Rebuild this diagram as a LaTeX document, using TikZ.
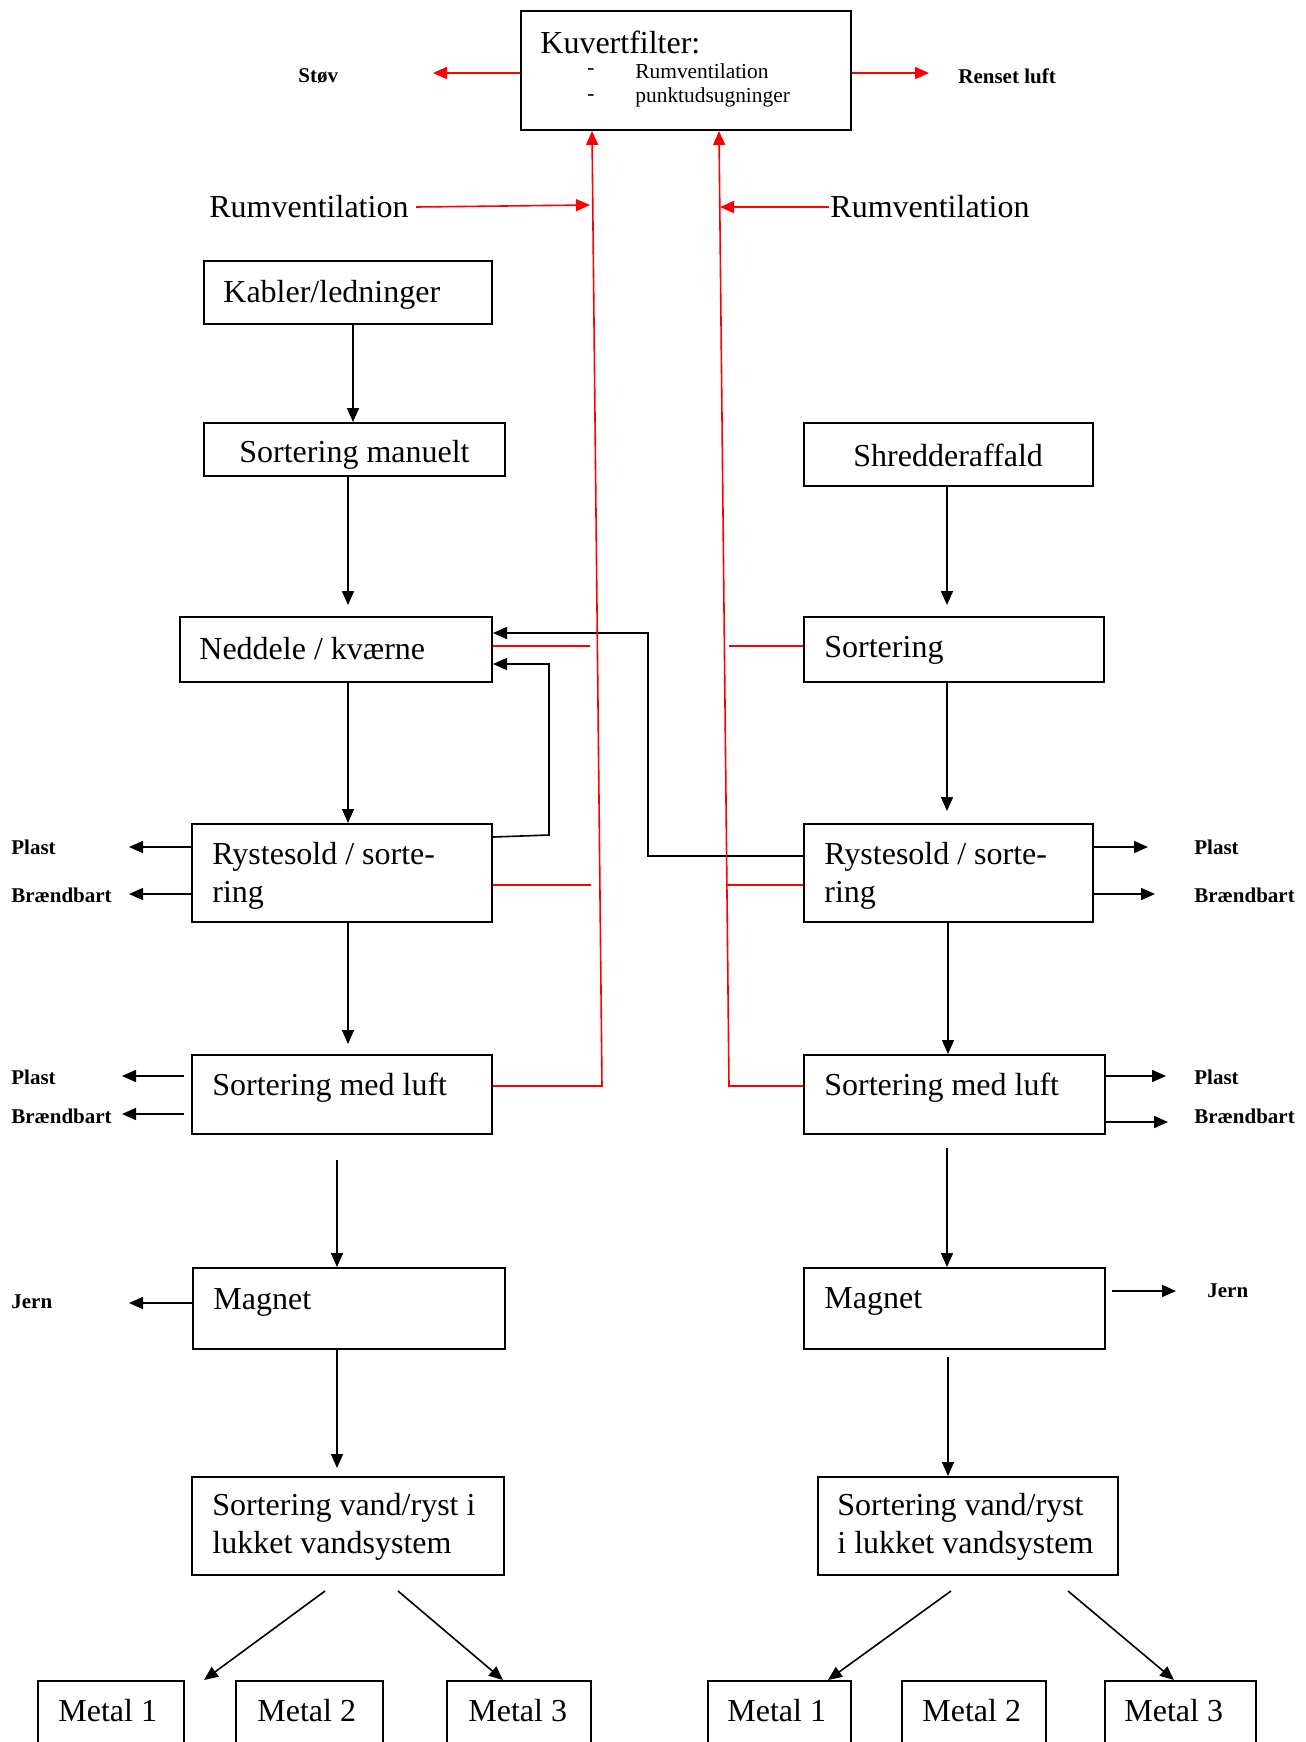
\documentclass[tikz,border=0pt]{standalone}
\usepackage{fontspec}
\setmainfont{Liberation Serif}
\usetikzlibrary{arrows.meta}
\tikzset{
  box/.style={draw, line width=1pt, inner sep=0pt, anchor=north west},
  txt/.style={inner sep=0pt, anchor=west, font=\fontsize{16}{19}\selectfont, align=left},
  sm/.style={inner sep=0pt, anchor=west, font=\fontsize{10.5}{12}\selectfont\bfseries},
  smr/.style={inner sep=0pt, anchor=west, font=\fontsize{10.7}{12}\selectfont},
  arr/.style={line width=0.8pt, -{Triangle[length=7pt,width=6pt]}},
  redarr/.style={red, line width=0.8pt, -{Triangle[length=7pt,width=6pt]}},
  redln/.style={red, line width=0.8pt},
}
\begin{document}
\begin{tikzpicture}[x=0.5pt,y=-0.5pt]
\clip (0,0) rectangle (1306,1742);
\fill[white] (0,0) rectangle (1306,1742);
% boxes
\node[box, minimum width=165pt, minimum height=59.5pt] (kuv) at (520,10) {};
\node[box, minimum width=144pt, minimum height=31.5pt] (kab) at (203,260) {};
\node[box, minimum width=150.5pt, minimum height=26.5pt] (sman) at (203,422) {};
\node[box, minimum width=156pt, minimum height=32.5pt] (ned) at (179,616) {};
\node[box, minimum width=150pt, minimum height=49pt] (rysL) at (191,823) {};
\node[box, minimum width=150pt, minimum height=39.5pt] (smlL) at (191,1054) {};
\node[box, minimum width=156pt, minimum height=40.5pt] (magL) at (192,1267) {};
\node[box, minimum width=156pt, minimum height=49pt] (vandL) at (191,1476) {};
\node[box, minimum width=73pt, minimum height=50pt] (m1L) at (37,1680) {};
\node[box, minimum width=73.5pt, minimum height=50pt] (m2L) at (235,1680) {};
\node[box, minimum width=72pt, minimum height=50pt] (m3L) at (446,1680) {};
\node[box, minimum width=144.5pt, minimum height=31.5pt] (shr) at (803,422) {};
\node[box, minimum width=150pt, minimum height=32.5pt] (sorR) at (803,616) {};
\node[box, minimum width=144.5pt, minimum height=49pt] (rysR) at (803,823) {};
\node[box, minimum width=150.5pt, minimum height=39.5pt] (smlR) at (803,1054) {};
\node[box, minimum width=150.5pt, minimum height=40.5pt] (magR) at (803,1267) {};
\node[box, minimum width=150pt, minimum height=49pt] (vandR) at (817,1476) {};
\node[box, minimum width=71.5pt, minimum height=50pt] (m1R) at (707,1680) {};
\node[box, minimum width=72pt, minimum height=50pt] (m2R) at (901,1680) {};
\node[box, minimum width=75.5pt, minimum height=50pt] (m3R) at (1104,1680) {};
% box texts
\node[txt] (tkuv) at (540,42) {Kuvertfilter:};
\node[smr, anchor=center] (d1) at (591,72) {-};
\node[smr, anchor=center] (d2) at (591,98) {-};
\node[smr] (tk1) at (635,71) {Rumventilation};
\node[smr] (tk2) at (635,97) {punktudsugninger};
\node[txt] (tkab) at (223,295) {Kabler/ledninger};
\node[txt] (tsman) at (239,455) {Sortering manuelt};
\node[txt] (tned) at (199,649) {Neddele / kværne};
\node[txt] (trysL) at (212,876) {Rystesold / sorte-\\ring};
\node[txt] (tsmlL) at (212,1088) {Sortering med luft};
\node[txt] (tmagL) at (213,1302) {Magnet};
\node[txt] (tvandL) at (212,1527) {Sortering vand/ryst i\\lukket vandsystem};
\node[txt] (tm1L) at (58,1711) {Metal 1};
\node[txt] (tm2L) at (257,1711) {Metal 2};
\node[txt] (tm3L) at (468,1711) {Metal 3};
\node[txt] (tshr) at (853,455) {Shredderaffald};
\node[txt] (tsorR) at (824,650) {Sortering};
\node[txt] (trysR) at (824,876) {Rystesold / sorte-\\ring};
\node[txt] (tsmlR) at (824,1088) {Sortering med luft};
\node[txt] (tmagR) at (824,1301) {Magnet};
\node[txt] (tvandR) at (837,1527) {Sortering vand/ryst\\i lukket vandsystem};
\node[txt] (tm1R) at (727,1711) {Metal 1};
\node[txt] (tm2R) at (922,1711) {Metal 2};
\node[txt] (tm3R) at (1124,1711) {Metal 3};
% free labels
\node[sm] (stov) at (298,76) {Støv};
\node[sm] (renset) at (958,76) {Renset luft};
\node[txt] (rumL) at (209,207) {Rumventilation};
\node[txt] (rumR) at (830,207) {Rumventilation};
\node[sm] (lp1) at (11,847) {Plast};
\node[sm] (lb1) at (11,895) {Brændbart};
\node[sm] (lp2) at (11,1077) {Plast};
\node[sm] (lb2) at (11,1116) {Brændbart};
\node[sm] (lj) at (11,1302) {Jern};
\node[sm] (rp1) at (1194,847) {Plast};
\node[sm] (rb1) at (1194,895) {Brændbart};
\node[sm] (rp2) at (1194,1077) {Plast};
\node[sm] (rb2) at (1194,1116) {Brændbart};
\node[sm] (rj) at (1207,1291) {Jern};
% start points of the split arrows
\coordinate (vL1) at (325,1591);
\coordinate (vL3) at (398,1591);
\coordinate (vR1) at (951,1591);
\coordinate (vR3) at (1068,1591);
% left chain
\draw[arr] (kab.south -| 353,0) -- (sman.north -| 353,0);
\draw[arr, shorten >=5.5pt] (sman.south -| 348,0) -- (ned.north -| 348,0);
\draw[arr] (ned.south -| 348,0) -- (rysL.north -| 348,0);
\draw[arr, shorten >=5pt] (rysL.south -| 348,0) -- (smlL.north -| 348,0);
\draw[arr, shorten <=12.5pt] (smlL.south -| 337,0) -- (magL.north -| 337,0);
\draw[arr, shorten >=4pt] (magL.south -| 337,0) -- (vandL.north -| 337,0);
\draw[arr] (vL1) -- (m1L.north -| 204,0);
\draw[arr] (vL3) -- (m3L.north -| 503,0);
% right chain
\draw[arr, shorten >=5.5pt] (shr.south -| 947,0) -- (sorR.north -| 947,0);
\draw[arr, shorten >=6pt] (sorR.south -| 947,0) -- (rysR.north -| 947,0);
\draw[arr] (rysR.south -| 948,0) -- (smlR.north -| 948,0);
\draw[arr, shorten <=6.5pt] (smlR.south -| 947,0) -- (magR.north -| 947,0);
\draw[arr, shorten <=3.5pt] (magR.south -| 948,0) -- (vandR.north -| 948,0);
\draw[arr] (vR1) -- (m1R.north -| 828,0);
\draw[arr] (vR3) -- (m3R.north -| 1174,0);
% feedback loops
\draw[arr] (rysL.east |- 0,837) -- (549,835) -- (549,664) -- (ned.east |- 0,664);
\draw[arr] (rysR.west |- 0,856) -- (648,856) -- (648,633) -- (ned.east |- 0,633);
% side outputs
\draw[arr] (rysL.west |- 0,847) -- (129,847);
\draw[arr] (rysL.west |- 0,894) -- (129,894);
\draw[arr, shorten <=3.5pt] (smlL.west |- 0,1076) -- (122,1076);
\draw[arr, shorten <=3.5pt] (smlL.west |- 0,1114) -- (122,1114);
\draw[arr] (magL.west |- 0,1303) -- (129,1303);
\draw[arr] (rysR.east |- 0,847) -- (1148,847);
\draw[arr] (rysR.east |- 0,894) -- (1155,894);
\draw[arr] (smlR.east |- 0,1076) -- (1166,1076);
\draw[arr] (smlR.east |- 0,1122) -- (1168,1122);
\draw[arr, shorten <=3pt] (magR.east |- 0,1291) -- (1176,1291);
% red air lines
\draw[redarr] (kuv.west |- 0,73) -- (433,73);
\draw[redarr] (kuv.east |- 0,73) -- (929,73);
\draw[redarr] (416,207) -- (590,205);
\draw[redarr] (829,207) -- (720,207);
\draw[redarr] (smlL.east |- 0,1086) -- (602,1086) -- (kuv.south -| 592,0);
\draw[redarr] (smlR.west |- 0,1086) -- (729,1086) -- (kuv.south -| 719,0);
\draw[redln] (ned.east |- 0,646) -- (590,646);
\draw[redln] (rysL.east |- 0,885) -- (591,885);
\draw[redln] (sorR.west |- 0,646) -- (729,646);
\draw[redln] (rysR.west |- 0,885) -- (727,885);
\end{tikzpicture}
\end{document}
